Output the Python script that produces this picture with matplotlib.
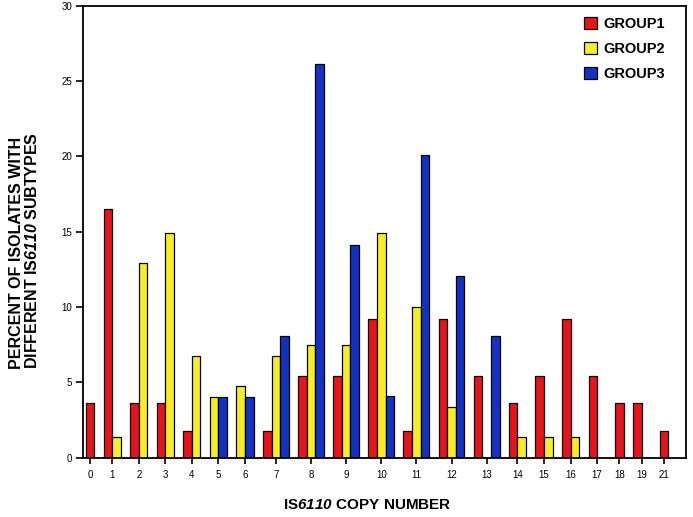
import numpy as np
import matplotlib.pyplot as plt
from matplotlib.patches import Patch

plt.rcParams['font.family'] = ['Liberation Sans', 'DejaVu Sans']
plt.rcParams['mathtext.fontset'] = 'custom'
plt.rcParams['mathtext.sf'] = 'Liberation Sans:italic:bold'
plt.rcParams['mathtext.rm'] = 'Liberation Sans:bold'

# copy numbers on the x axis
copy_numbers = ['0', '1', '2', '3', '4', '5', '6', '7', '8', '9', '10',
                '11', '12', '13', '14', '15', '16', '17', '18', '19', '21']
nan = np.nan
# percent of isolates (nan = no bar drawn, 0 = flat bar)
group1 = [3.6, 16.5, 3.6, 3.6, 1.8, nan, nan, 1.8, 5.4, 5.4, 9.2,
          1.8, 9.2, 5.4, 3.6, 5.4, 9.2, 5.4, 3.6, 3.6, 1.8]
group2 = [nan, 1.35, 12.9, 14.9, 6.75, 4.05, 4.75, 6.75, 7.45, 7.45, 14.9,
          10.0, 3.35, 0, 1.35, 1.35, 1.35, 0, nan, 0, nan]
group3 = [nan, nan, nan, nan, nan, 4.05, 4.05, 8.1, 26.1, 14.1, 4.1,
          20.1, 12.05, 8.1, nan, nan, nan, nan, nan, nan, nan]
names = ['GROUP1', 'GROUP2', 'GROUP3']
colors = ['#e8141c', '#f6ee22', '#1232c4']

fig = plt.figure(figsize=(6.93, 5.17), dpi=100)
ax = fig.add_axes([0.1202, 0.1147, 0.870, 0.8743])

# lay the bars out group by group, only the bars that exist, side by side
w = 1.0
gap = 1.09
pos = 0.28
centers = []
series = [group1, group2, group3]
for i in range(len(copy_numbers)):
    present = [k for k in range(3) if not np.isnan(series[k][i])]
    start = pos
    for j, k in enumerate(present):
        ax.bar(start + j * w, series[k][i], width=w, align='edge',
               color=colors[k], edgecolor='black', linewidth=0.9)
    centers.append(start + len(present) * w / 2)
    pos = start + len(present) * w + gap
ax.set_xlim(0, pos - gap + 2.1)
ax.set_ylim(0, 30)

ax.set_xticks(centers)
ax.set_xticklabels(copy_numbers, fontsize=7)
ax.set_yticks(range(0, 31, 5))
ax.tick_params(axis='y', labelsize=7, length=5, width=1.2, pad=3)
ax.tick_params(axis='x', length=4, width=1.2, pad=5)
for s in ax.spines.values():
    s.set_linewidth(1.3)

fig.text(0.53, 0.023, r'IS$\mathsf{6110}$ COPY NUMBER', fontsize=11,
         fontweight='bold', ha='center', va='center')
fig.text(0.036, 0.515, 'PERCENT OF ISOLATES WITH\n' + r'DIFFERENT IS$\mathsf{6110}$ SUBTYPES',
         rotation=90, fontsize=11.5, fontweight='bold', ha='center', va='center',
         multialignment='left', linespacing=1.0)

handles = [Patch(facecolor=c, edgecolor='black', linewidth=0.9) for c in colors]
ax.legend(handles, names, loc='upper right', bbox_to_anchor=(0.985, 1.0),
          frameon=False, prop={'weight': 'bold', 'size': 10.5},
          handlelength=0.85, handleheight=0.85, handletextpad=0.5,
          labelspacing=0.75, borderaxespad=0.4)

plt.savefig('out.png')
plt.close()
